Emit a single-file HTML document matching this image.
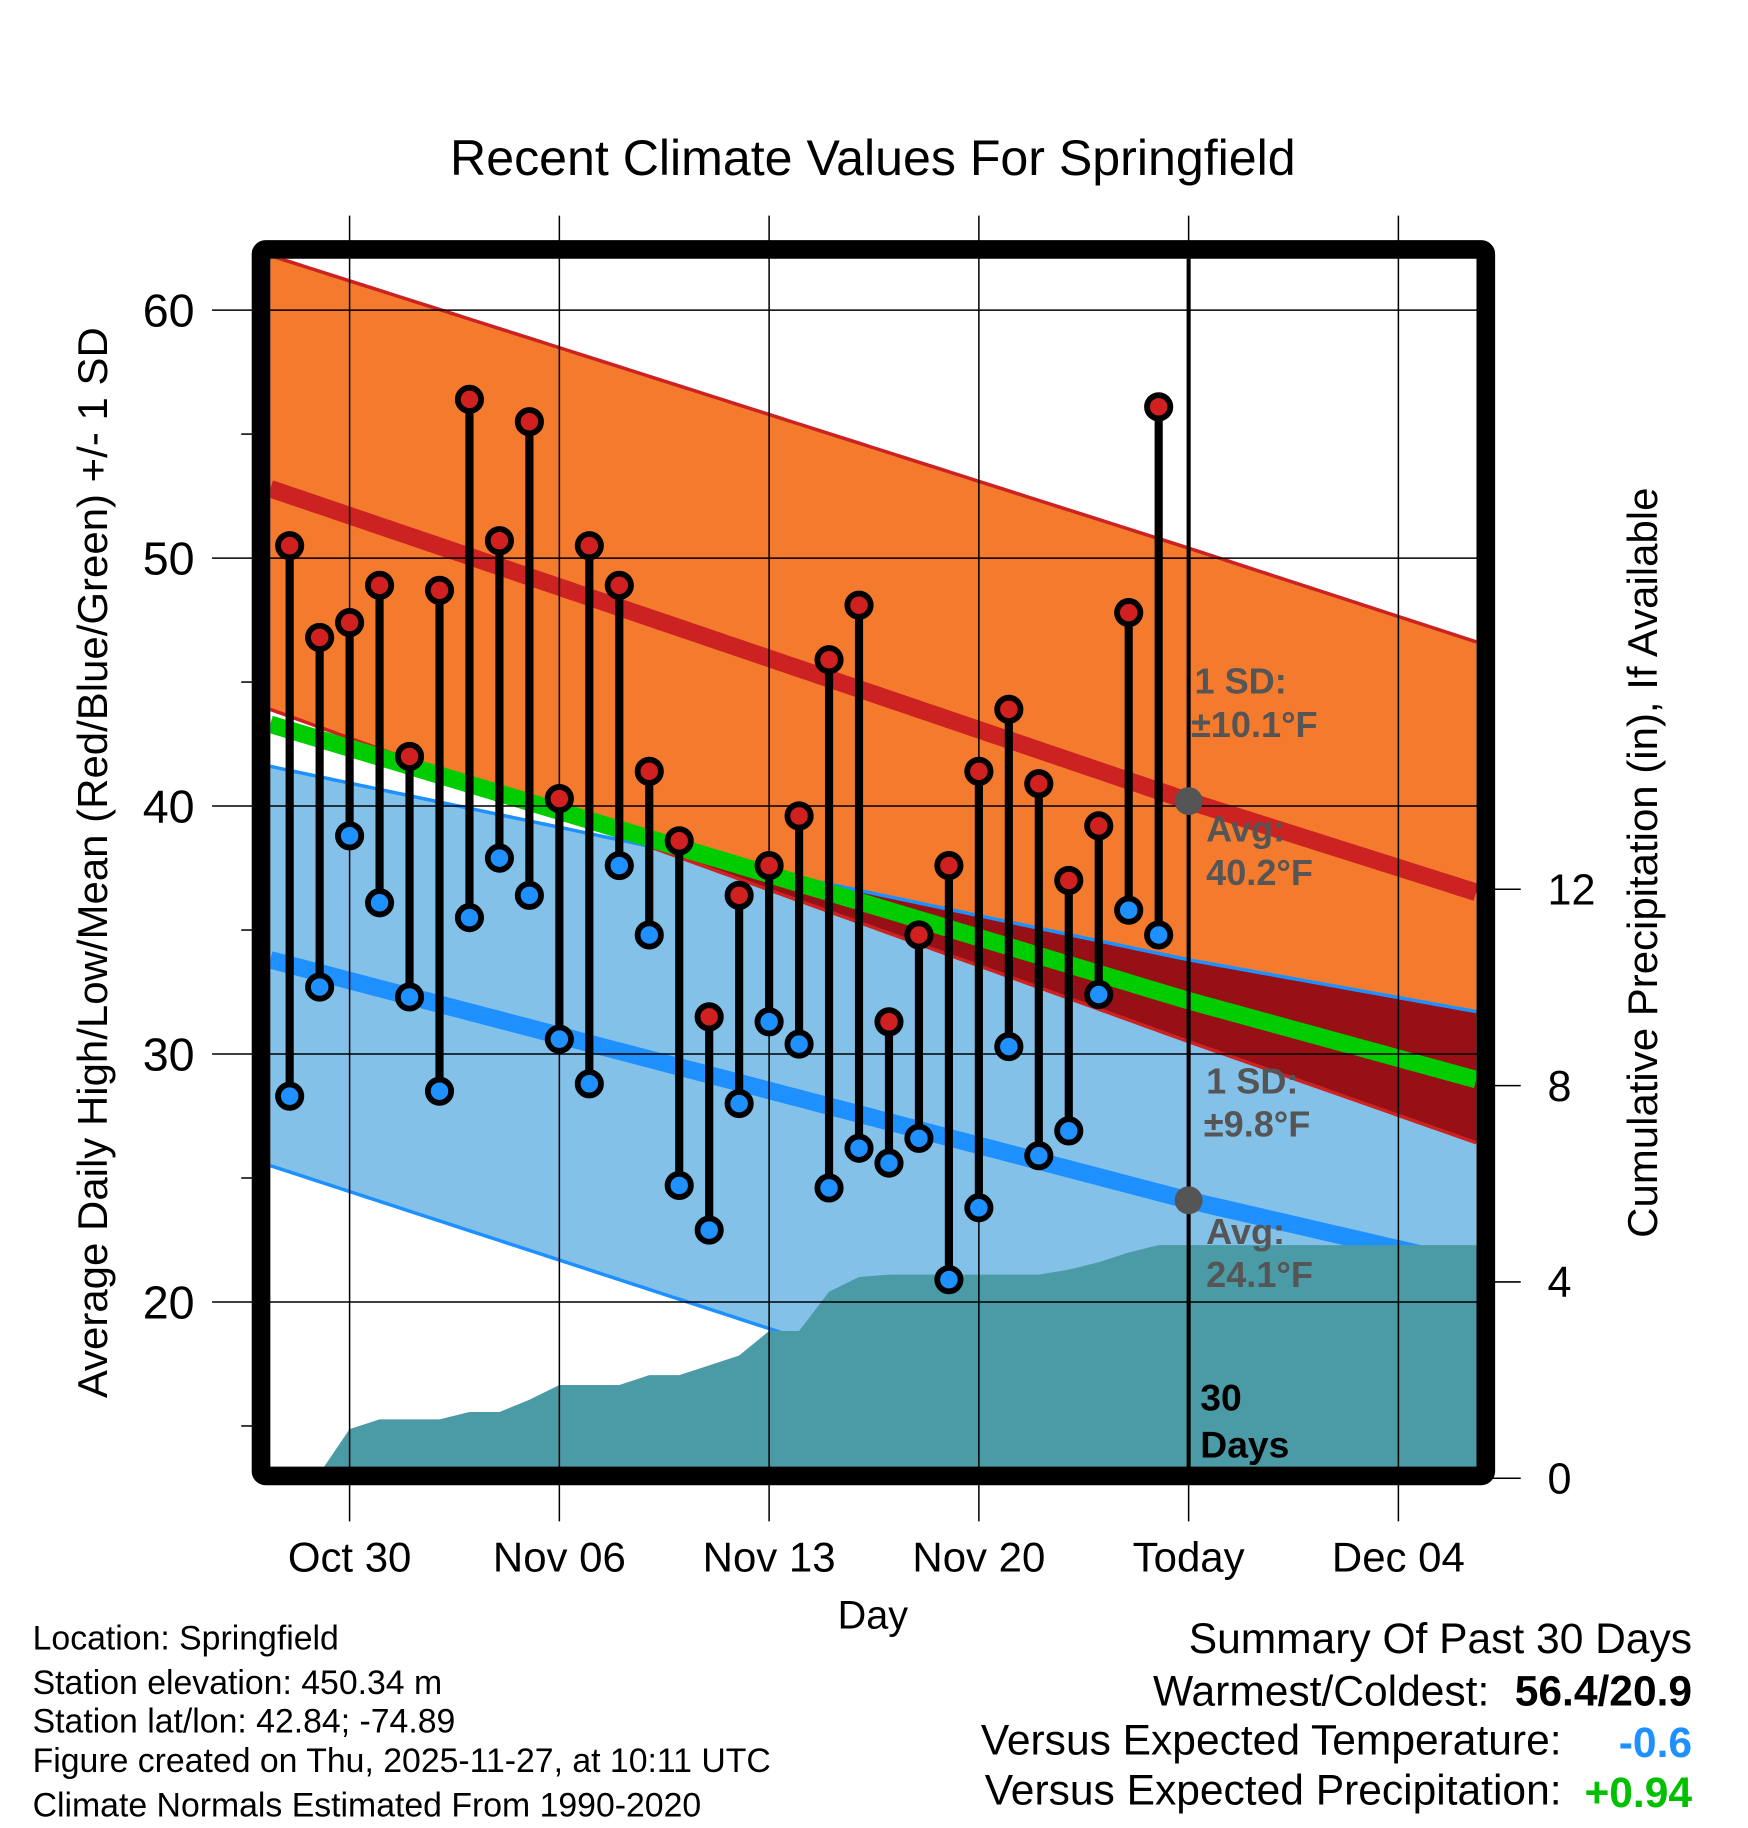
<!DOCTYPE html>
<html><head><meta charset="utf-8"><style>
html,body{margin:0;padding:0;background:#fff}
svg{display:block;font-family:"Liberation Sans",Arial,sans-serif}
</style></head><body>
<svg id="chart" width="1748" height="1828" viewBox="0 0 1500 1568" preserveAspectRatio="none" xmlns="http://www.w3.org/2000/svg">
<defs><clipPath id="plotclip"><rect x="232" y="222" width="1036" height="1038"/></clipPath></defs>
<g id="plot" clip-path="url(#plotclip)"></g>
<g id="overlay"></g>
<text x="749" y="150" font-size="43" text-anchor="middle">Recent Climate Values For Springfield</text>
<text x="749" y="1397" font-size="34" text-anchor="middle">Day</text>
<text transform="translate(92,740) rotate(-90)" font-size="36" text-anchor="middle">Average Daily High/Low/Mean (Red/Blue/Green) +/- 1 SD</text>
<text transform="translate(1422,740) rotate(-90)" font-size="36" text-anchor="middle">Cumulative Precipitation (in), If Available</text>
<g font-size="29">
<text x="28" y="1415">Location: Springfield</text>
<text x="28" y="1453">Station elevation: 450.34 m</text>
<text x="28" y="1486">Station lat/lon: 42.84; -74.89</text>
<text x="28" y="1520">Figure created on Thu, 2025-11-27, at 10:11 UTC</text>
<text x="28" y="1558">Climate Normals Estimated From 1990-2020</text>
</g>
<g font-size="36.5" text-anchor="end">
<text x="1452" y="1418">Summary Of Past 30 Days</text>
<text x="1278" y="1463">Warmest/Coldest:</text>
<text x="1452" y="1463" font-weight="bold">56.4/20.9</text>
<text x="1340" y="1505">Versus Expected Temperature:</text>
<text x="1452" y="1507" font-weight="bold" fill="#1e90ff">-0.6</text>
<text x="1340" y="1548">Versus Expected Precipitation:</text>
<text x="1452" y="1550" font-weight="bold" fill="#00c000">+0.94</text>
</g>
</svg>
<script>
// ---- data ----
const normDays = [-2.65, 28, 37.65];
const highUpper = [62.2, 50.4, 46.6];
const highAvg = [52.8, 40.2, 36.5];
const highLower = [43.9, 30.5, 26.4];
const lowUpper = [41.6, 33.8, 31.7];
const lowAvg = [33.8, 24.1, 21.4];
const lowLower = [25.5, 13.4, 9.6];
const obsDays = [-2,-1,0,1,2,3,4,5,6,7,8,9,10,11,12,13,14,15,16,17,18,19,20,21,22,23,24,25,26,27];
const highs = [50.5,46.8,47.4,48.9,42.0,48.7,56.4,50.7,55.5,40.3,50.5,48.9,41.4,38.6,31.5,36.4,37.6,39.6,45.9,48.1,31.3,34.8,37.6,41.4,43.9,40.9,37.0,39.2,47.8,56.1];
const lows = [28.3,32.7,38.8,36.1,32.3,28.5,35.5,37.9,36.4,30.6,28.8,37.6,34.8,24.7,22.9,28.0,31.3,30.4,24.6,26.2,25.6,26.6,20.9,23.8,30.3,25.9,26.9,32.4,35.8,34.8];
const precip = [0,0.1,1.0,1.2,1.2,1.2,1.35,1.35,1.6,1.9,1.9,1.9,2.1,2.1,2.3,2.5,3.0,3.0,3.8,4.1,4.15,4.15,4.15,4.15,4.15,4.15,4.25,4.4,4.6,4.75];
const xTickDays = [0,7,14,21,28,35];
const xTickLabels = ["Oct 30","Nov 06","Nov 13","Nov 20","Today","Dec 04"];
const yTicks = [20,30,40,50,60];
const yMinor = [15,25,35,45,55];
const pTicks = [0,4,8,12];
const todayDay = 28;
const todayLabels = ["1 SD:","±10.1°F","Avg:","40.2°F","1 SD:","±9.8°F","Avg:","24.1°F"];

// ---- scales ----
const X = d => 300 + d*25.714;
const Y = v => 266 + (60 - v)*21.27;
const P = p => 1268 - p*42.1;
const NS = "http://www.w3.org/2000/svg";
const plot = document.getElementById('plot');
const over = document.getElementById('overlay');
function mk(tag, attrs, parent){const e=document.createElementNS(NS,tag);for(const k in attrs)e.setAttribute(k,attrs[k]);(parent||plot).appendChild(e);return e;}
function interp(arr,d){for(let i=0;i<normDays.length-1;i++){if(d<=normDays[i+1]||i==normDays.length-2){const t=(d-normDays[i])/(normDays[i+1]-normDays[i]);return arr[i]+t*(arr[i+1]-arr[i]);}}}
const samp=[];for(let d=-2.65;d<=37.66;d+=0.25)samp.push(d);
function linePts(arr){return samp.map(d=>X(d)+','+Y(interp(arr,d))).join(' ');}
function band(a,b){return samp.map(d=>X(d)+','+Y(interp(a,d))).concat(samp.slice().reverse().map(d=>X(d)+','+Y(interp(b,d)))).join(' ');}

let e;
e=mk('polygon',{points:band(highUpper,highLower),fill:'#f47a2e'});

e=mk('polygon',{points:band(lowUpper,lowLower),fill:'#84c1e8'});

const ov=samp.filter(d=>interp(lowUpper,d)>interp(highLower,d));
if(ov.length){
 e=mk('polygon',{points:ov.map(d=>X(d)+','+Y(interp(lowUpper,d))).concat(ov.slice().reverse().map(d=>X(d)+','+Y(interp(highLower,d)))).join(' '),fill:'#961016'});
 
}
[highUpper,highLower].forEach(a=>{e=mk('polyline',{points:linePts(a),fill:'none',stroke:'#cc2222','stroke-width':3});
});
[lowUpper,lowLower].forEach(a=>{e=mk('polyline',{points:linePts(a),fill:'none',stroke:'#1e90ff','stroke-width':3});
});
const meanArr=highAvg.map((v,i)=>(v+lowAvg[i])/2);
e=mk('polyline',{points:linePts(meanArr),fill:'none',stroke:'#00cc00','stroke-width':15});

e=mk('polyline',{points:linePts(highAvg),fill:'none',stroke:'#cc2222','stroke-width':15});

e=mk('polyline',{points:linePts(lowAvg),fill:'none',stroke:'#1e90ff','stroke-width':15});

let pp=[X(obsDays[0])+','+P(0)];
obsDays.forEach((d,i)=>pp.push(X(d)+','+P(precip[i])));
pp.push('1280,'+P(precip[precip.length-1]));pp.push('1280,1300');pp.push(X(obsDays[0])+',1300');
e=mk('polygon',{points:pp.join(' '),fill:'#4a9ba5'});

xTickDays.forEach(d=>{e=mk('line',{x1:X(d),x2:X(d),y1:185,y2:1305,stroke:'#000','stroke-width':1.3},over);
});
yTicks.forEach(v=>{e=mk('line',{x1:182,x2:1282,y1:Y(v),y2:Y(v),stroke:'#000','stroke-width':1.3},over);
});
yMinor.forEach(v=>{e=mk('line',{x1:207,x2:220,y1:Y(v),y2:Y(v),stroke:'#000','stroke-width':1.3},over);
});
pTicks.forEach(p=>{e=mk('line',{x1:1275,x2:1305,y1:P(p),y2:P(p),stroke:'#000','stroke-width':1.3},over);

e=mk('text',{x:1328,y:P(p)+13,'font-size':37},over);e.textContent=p;
});
yTicks.forEach(v=>{e=mk('text',{x:167,y:Y(v)+14,'font-size':40,'text-anchor':'end'},over);e.textContent=v;
});
xTickDays.forEach((d,i)=>{e=mk('text',{x:X(d),y:1348,'font-size':36,'text-anchor':'middle'},over);e.textContent=xTickLabels[i];
});
e=mk('line',{x1:X(todayDay),x2:X(todayDay),y1:222,y2:1262,stroke:'#000','stroke-width':3.5},over);

obsDays.forEach((d,i)=>{
 e=mk('line',{x1:X(d),x2:X(d),y1:Y(highs[i]),y2:Y(lows[i]),stroke:'#000','stroke-width':7},over);
 
});
obsDays.forEach((d,i)=>{
 e=mk('circle',{cx:X(d),cy:Y(highs[i]),r:10,fill:'#d02020',stroke:'#000','stroke-width':5},over);
 
 e=mk('circle',{cx:X(d),cy:Y(lows[i]),r:10,fill:'#1e90ff',stroke:'#000','stroke-width':5},over);
 
});
const tx=X(todayDay);
[interp(highAvg,todayDay),interp(lowAvg,todayDay)].forEach(v=>{
 e=mk('circle',{cx:tx,cy:Y(v),r:12,fill:'#555'},over);
 
});
const lblPos=[[1025,595],[1022,632],[1035,722],[1035,759],[1035,938],[1033,975],[1035,1067],[1035,1104]];
todayLabels.forEach((t,i)=>{e=mk('text',{x:lblPos[i][0],y:lblPos[i][1],'font-size':31,'font-weight':'bold',fill:'#555'},over);e.textContent=t;
 });
e=mk('text',{x:1030,y:1210,'font-size':32,'font-weight':'bold'},over);e.textContent='30';

e=mk('text',{x:1030,y:1250,'font-size':32,'font-weight':'bold'},over);e.textContent='Days';

e=mk('rect',{x:224,y:214,width:1051,height:1052,fill:'none',stroke:'#000','stroke-width':16,rx:4},over);

</script>
</body></html>
